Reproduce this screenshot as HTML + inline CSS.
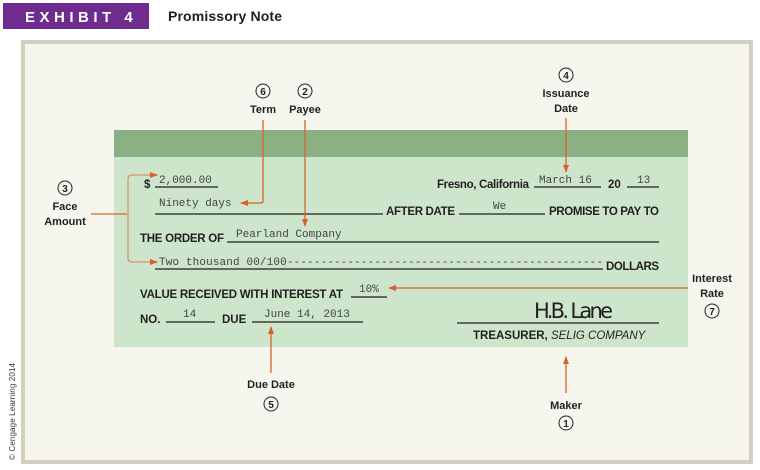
<!DOCTYPE html>
<html><head><meta charset="utf-8"><style>
html,body{margin:0;padding:0;background:#fff;width:760px;height:470px;overflow:hidden}
svg{display:block}
.b{font-family:"Liberation Sans",sans-serif;font-weight:bold;font-size:11.5px;fill:#231f20}
.l{font-family:"Liberation Sans",sans-serif;font-weight:bold;font-size:11px;fill:#231f20}
.m{font-family:"Liberation Mono",monospace;font-size:11px;fill:#444}
.n{font-family:"Liberation Sans",sans-serif;font-weight:bold;font-size:10px;fill:#231f20}
</style></head><body>
<svg width="760" height="470" viewBox="0 0 760 470">
<defs><marker id="a" markerWidth="8" markerHeight="6" refX="7" refY="3" orient="auto" markerUnits="userSpaceOnUse"><path d="M0,0 L8,3 L0,6 Z" fill="#d9622b"/></marker></defs>
<rect x="3" y="3" width="146" height="26" fill="#6f2c8f"/>
<text x="25" y="22" fill="#fff" font-family="Liberation Sans,sans-serif" font-weight="bold" font-size="15" letter-spacing="4.5">EXHIBIT 4</text>
<text x="168" y="21" font-family="Liberation Sans,sans-serif" font-weight="bold" font-size="14" fill="#231f20" textLength="114">Promissory Note</text>
<rect x="23" y="42" width="728" height="420" fill="#f7f6ee" stroke="#d3cfc0" stroke-width="4"/>
<text transform="translate(15,460) rotate(-90)" font-family="Liberation Sans,sans-serif" font-size="8" fill="#333" textLength="97">© Cengage Learning 2014</text>
<rect x="114" y="130" width="574" height="27" fill="#8bb083"/>
<rect x="114" y="157" width="574" height="190" fill="#cde5ca"/>
<g stroke="#231f20" stroke-width="1.2">
<line x1="155" y1="187" x2="218" y2="187"/>
<line x1="534" y1="187" x2="601" y2="187"/>
<line x1="627" y1="187" x2="659" y2="187"/>
<line x1="155" y1="214" x2="383" y2="214"/>
<line x1="459" y1="214" x2="545" y2="214"/>
<line x1="227" y1="242" x2="659" y2="242"/>
<line x1="155" y1="269" x2="603" y2="269"/>
<line x1="351" y1="297" x2="387" y2="297"/>
<line x1="166" y1="322" x2="215" y2="322"/>
<line x1="252" y1="322" x2="363" y2="322"/>
<line x1="457" y1="323" x2="659" y2="323"/>
</g>
<text class="b" x="144" y="188">$</text>
<text class="m" x="159" y="183">2,000.00</text>
<text class="m" x="159" y="206">Ninety days</text>
<text class="b" x="386" y="215" textLength="69">AFTER DATE</text>
<text class="m" x="493" y="209" font-size="9.5">We</text>
<text class="b" x="549" y="215" textLength="110">PROMISE TO PAY TO</text>
<text class="b" x="437" y="188" textLength="92">Fresno, California</text>
<text class="m" x="539" y="183" font-size="10.5">March 16</text>
<text class="b" x="608" y="188">20</text>
<text class="m" x="637" y="183">13</text>
<text class="b" x="140" y="242" textLength="84">THE ORDER OF</text>
<text class="m" x="236" y="237">Pearland Company</text>
<text class="m" x="159" y="265" textLength="444">Two thousand 00/100-----------------------------------------------</text>
<text class="b" x="606" y="270" textLength="53">DOLLARS</text>
<text class="b" x="140" y="298" textLength="203">VALUE RECEIVED WITH INTEREST AT</text>
<text class="m" x="359" y="292">10%</text>
<text class="b" x="140" y="323">NO.</text>
<text class="m" x="183" y="317">14</text>
<text class="b" x="222" y="323">DUE</text>
<text class="m" x="264" y="317">June 14, 2013</text>
<text x="534" y="318" font-family="DejaVu Sans,sans-serif" font-size="21" fill="#231f20" textLength="79">H.B. Lane</text>
<text class="b" x="473" y="339">TREASURER, <tspan font-style="italic" font-weight="normal">SELIG COMPANY</tspan></text>
<g fill="none" stroke="#d9622b" stroke-width="1.3">
<path d="M263,120 V201 Q263,203 261,203 H241" marker-end="url(#a)"/>
<path d="M305,120 V226" marker-end="url(#a)"/>
<path d="M566,118 V172" marker-end="url(#a)"/>
<path d="M91,214 H127"/>
<path d="M157,175 H132 Q128,175 128,179 V258 Q128,262 132,262 H157" stroke="#e0906a"/>
<path d="M150,175 H157" marker-end="url(#a)"/>
<path d="M150,262 H157" marker-end="url(#a)"/>
<path d="M688,288 H389" marker-end="url(#a)"/>
<path d="M271,373 V327" marker-end="url(#a)"/>
<path d="M566,393 V357" marker-end="url(#a)"/>
</g>
<g fill="none" stroke="#231f20" stroke-width="1">
<circle cx="263" cy="91" r="7"/><circle cx="305" cy="91" r="7"/><circle cx="566" cy="75" r="7"/>
<circle cx="65" cy="188" r="7"/><circle cx="712" cy="311" r="7"/><circle cx="271" cy="404" r="7"/><circle cx="566" cy="423" r="7"/>
</g>
<g class="n" text-anchor="middle">
<text x="263" y="95">6</text><text x="305" y="95">2</text><text x="566" y="79">4</text><text x="65" y="192">3</text><text x="712" y="315">7</text><text x="271" y="408">5</text><text x="566" y="427">1</text>
</g>
<g class="l" text-anchor="middle">
<text x="263" y="113">Term</text><text x="305" y="113">Payee</text>
<text x="566" y="97">Issuance</text><text x="566" y="112">Date</text>
<text x="65" y="210">Face</text><text x="65" y="225">Amount</text>
<text x="712" y="282">Interest</text><text x="712" y="297">Rate</text>
<text x="271" y="388">Due Date</text><text x="566" y="409">Maker</text>
</g>
</svg>
</body></html>
